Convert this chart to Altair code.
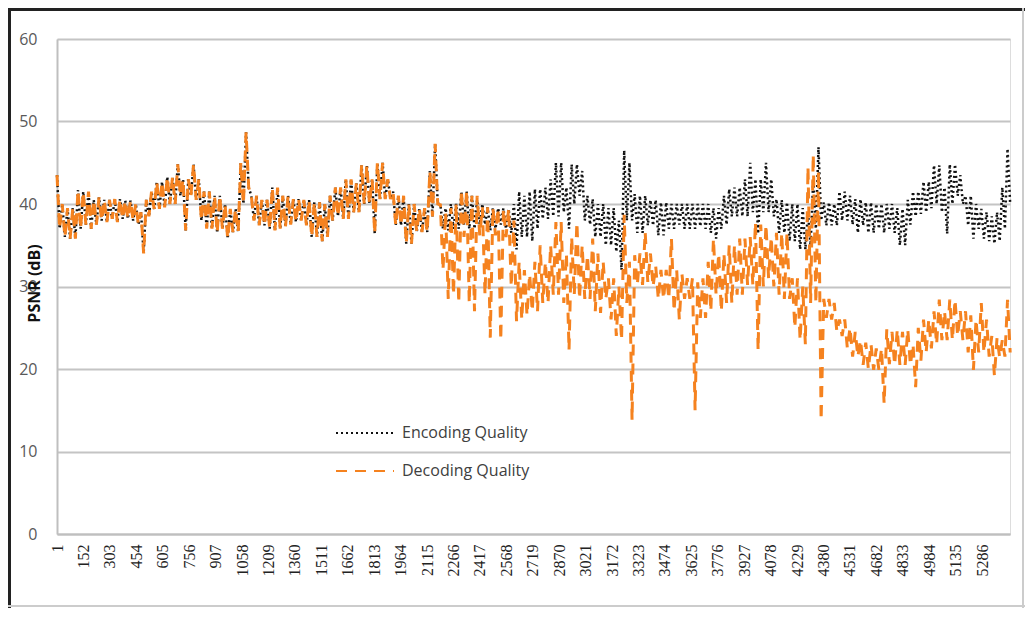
import altair as alt
import pandas as pd

# x categories (frame numbers): band top read at frame_hi, band bottom at frame_lo
frame_hi = list(range(1, 5432, 30))
frame_lo = list(range(16, 5447, 30))

encoding_top = [
    43.5, 40, 39.5, 39.5, 41.7, 41.5, 41.5, 40.5, 40.8, 40.5,
    40.5, 40.6, 40.6, 40.4, 40.4, 40, 39, 40.5, 41.5, 42.7,
    42.7, 43.3, 43.3, 44.8, 43, 43, 44.8, 43, 41.5, 41.5,
    41, 41, 40, 39.4, 39.4, 45, 48.7, 41, 41, 40.5,
    40.5, 42, 42, 41, 41, 40.6, 40.6, 40.5, 40.5, 40.2,
    40.2, 40, 41, 42, 42, 43, 43, 42.5, 44.7, 44.7,
    43, 45, 45, 43, 41.5, 41, 41, 40, 40, 39.5,
    39.5, 44, 47.3, 40, 39.5, 40, 40, 41.5, 41.5, 41,
    40.5, 40, 39.6, 39.5, 39.5, 39.5, 39.4, 40, 41.5, 41,
    41.5, 41.8, 41.8, 42, 43, 45, 45, 42, 44.8, 44.8,
    44, 41, 40.6, 40, 40, 39.5, 39.5, 38, 46.5, 45,
    41.2, 41, 41, 40.5, 40.5, 40.2, 40.2, 40, 40, 40,
    40, 40, 40, 40, 40, 39.5, 39.5, 41, 41.8, 42,
    42, 43, 45, 43, 43, 45, 43, 40.6, 40.5, 40.2,
    40, 40, 39.5, 39, 43, 46.9, 40.2, 40.2, 40, 41.5,
    41.5, 41, 40.6, 40.6, 40.2, 40.2, 40, 40, 40, 40,
    39.5, 39.4, 40.5, 41.5, 41.5, 42.7, 42.7, 44.7, 44.7, 42,
    44.8, 44.8, 43.5, 41, 41, 40, 39.4, 39, 38.5, 39,
    42, 46.7,
]

encoding_bottom = [
    37, 36, 35.8, 35.8, 37, 37.5, 37, 37.5, 38, 37.8,
    38.2, 37.8, 38.2, 38.2, 38, 37.5, 34, 38.5, 39.4, 39.4,
    39.6, 40, 40, 41, 36.8, 41, 40.5, 38, 37, 37,
    36.5, 37, 35.8, 36.6, 36.6, 40, 42, 38, 37.4, 37.4,
    37, 36.8, 37, 37.2, 37.5, 37.8, 38, 37.4, 36, 36,
    35.5, 36, 38, 38.5, 38.2, 38.2, 39, 39, 40, 40,
    36.4, 40.6, 40.6, 40.6, 37.4, 37.4, 35.2, 35.2, 36.6, 36.6,
    36.6, 38.5, 40, 37, 36.8, 37, 37, 37.5, 37, 37,
    37.5, 37.5, 36.8, 37, 37.5, 37, 36.5, 34.5, 36, 36,
    35.5, 37, 38.2, 38.2, 38.5, 38.5, 39, 37, 40, 41,
    38, 37.5, 36, 36, 35, 35, 34.2, 32, 38, 38,
    36.5, 36.5, 37.4, 37.4, 36.2, 36.2, 37, 37, 37.5, 37,
    37, 37, 37.3, 37, 36.5, 35.8, 37, 37.5, 38.5, 38.5,
    38.5, 38.5, 39, 36.4, 39, 39, 38.5, 36.5, 36.5, 35.5,
    35.5, 34.5, 34.5, 35, 37, 38, 37.4, 37.4, 37.4, 38,
    38, 37.5, 36.5, 37.4, 36.5, 36.5, 37, 36.5, 37, 36.5,
    35, 35, 37.5, 38.5, 38.8, 39, 39.5, 40, 39, 36.4,
    40, 41, 40, 37.4, 35.8, 37, 35.8, 35.5, 35.2, 35.5,
    37, 40,
]

decoding_top = [
    43.5, 40, 39.5, 39.5, 41.7, 41.5, 41.5, 40.5, 40.8, 40.5,
    40.5, 40.6, 40.6, 40.4, 40.4, 40, 39, 40.5, 41.5, 42.7,
    42.7, 43.3, 43.3, 44.8, 43, 43, 44.8, 43, 41.5, 41.5,
    41, 41, 40, 39.4, 39.4, 45, 48.7, 41, 41, 40.5,
    40.5, 42, 42, 41, 41, 40.6, 40.6, 40.5, 40.5, 40.2,
    40.2, 40, 41, 42, 42, 43, 43, 42.5, 44.7, 44.7,
    43, 45, 45, 43, 41.5, 41, 41, 40, 40, 39.5,
    39.5, 44, 47.3, 39.9, 39, 39.5, 40, 41.7, 41.7, 41,
    41, 39.6, 39.6, 39.5, 39.5, 39.4, 39.4, 38, 33, 32,
    31.5, 33, 35, 33, 35, 37.8, 37.8, 34, 36, 37.8,
    35, 33.8, 35.8, 34, 33, 31, 31, 30, 38.7, 33,
    33.8, 34, 36.6, 34, 32.5, 32, 32, 35.8, 32, 31.5,
    31, 31, 30.5, 31, 33, 35.8, 34, 34, 35, 35,
    35.8, 35.8, 36, 37.8, 37.5, 37.5, 36, 36.5, 36.5, 36.5,
    31, 31, 30, 44.5, 46, 44, 28.5, 28.5, 28, 26,
    26, 25, 24.5, 23.5, 23.2, 23, 22.5, 22.5, 24.8, 24.5,
    24.8, 24.5, 24.8, 23, 25, 26, 26, 27, 28.4, 27,
    28.4, 28.4, 27, 27, 26.5, 26, 28, 26, 24, 23.8,
    23.5, 28.4,
]

decoding_bottom = [
    37, 36, 35.8, 35.8, 37, 37.5, 37, 37.5, 38, 37.8,
    38.2, 37.8, 38.2, 38.2, 38, 37.5, 34, 38.5, 39.4, 39.4,
    39.6, 40, 40, 41, 36.8, 41, 40.5, 38, 37, 37,
    36.5, 37, 35.8, 36.6, 36.6, 40, 42, 38, 37.4, 37.4,
    37, 36.8, 37, 37.2, 37.5, 37.8, 38, 37.4, 36, 36,
    35.5, 36, 38, 38.5, 38.2, 38.2, 39, 39, 40, 40,
    36.4, 40.6, 40.6, 40.6, 37.4, 37.4, 35.2, 35.2, 36.6, 36.6,
    36.6, 38.5, 40, 32, 28.5, 29, 28, 36, 28, 27,
    36.2, 29, 23.8, 36.2, 23.5, 36, 30, 25.8, 26, 26.5,
    27, 27, 28, 28, 29, 29, 28, 22.3, 29, 28.5,
    28.5, 28.5, 27, 26.8, 28.5, 26, 24, 23.5, 28, 13.8,
    30.2, 30.2, 30.5, 30, 28.5, 28.5, 28.5, 27, 26, 28.5,
    28.5, 15, 26.2, 26.2, 27, 29, 27, 28, 28, 29,
    29, 30.2, 30.2, 22.3, 30, 31, 30, 29, 28.5, 28.5,
    25, 23.5, 23, 28, 28, 13.8, 26.2, 26, 24.5, 24,
    22.5, 21.5, 21.5, 20.5, 20, 19.9, 19.9, 15.8, 20.6, 20.5,
    20.5, 20.5, 20.5, 17.8, 21, 22, 22.5, 23, 23.5, 23.5,
    23.5, 24, 23.5, 22, 19.9, 22, 22, 21.5, 19.2, 21.4,
    21.5, 22,
]

x_ticks = [1, 152, 303, 454, 605, 756, 907, 1058, 1209, 1360, 1511, 1662,
           1813, 1964, 2115, 2266, 2417, 2568, 2719, 2870, 3021, 3172, 3323,
           3474, 3625, 3776, 3927, 4078, 4229, 4380, 4531, 4682, 4833, 4984,
           5135, 5286]
y_ticks = [0, 10, 20, 30, 40, 50, 60]
series_names = ["Encoding Quality", "Decoding Quality"]
series_colors = ["#111111", "#F5821F"]
series_dashes = [[2, 3], [11, 8]]

W, H = 953, 495


def build(name, top, bottom):
    rows = []
    for fh, fl, t, b in zip(frame_hi, frame_lo, top, bottom):
        rows.append({"frame": fh, "psnr": t, "series": name})
        rows.append({"frame": fl, "psnr": b, "series": name})
    return rows


df = pd.DataFrame(build(series_names[0], encoding_top, encoding_bottom)
                  + build(series_names[1], decoding_top, decoding_bottom))

legend = alt.Legend(
    title=None, orient="none", legendX=278, legendY=364,
    symbolType="stroke", symbolSize=3364, symbolStrokeWidth=2,
    labelFont="Open Sans", labelFontSize=16, labelColor="#404040",
    labelOffset=7, rowPadding=-7,
)

base = alt.Chart(df).encode(
    x=alt.X("frame:Q",
            scale=alt.Scale(domain=[1, 5445], nice=False, zero=False),
            axis=alt.Axis(values=x_ticks, format="d", title=None, grid=False, ticks=False,
                          labelAngle=270, labelFont="Liberation Serif",
                          labelFontSize=16, labelColor="#222222",
                          labelPadding=10, labelOverlap=False, labelFlush=False,
                          domainColor="#BFBFBF", domainWidth=2)),
    y=alt.Y("psnr:Q",
            scale=alt.Scale(domain=[0, 60], nice=False),
            axis=alt.Axis(values=y_ticks, title="PSNR (dB)", grid=True,
                          gridColor="#C4C4C4", gridWidth=2, ticks=False,
                          labelFont="Open Sans", labelFontSize=16,
                          labelColor="#595959", labelPadding=20,
                          domainColor="#BFBFBF", domainWidth=2,
                          titleFont="Open Sans", titleFontWeight="bold",
                          titleFontSize=16, titleColor="#111111",
                          titleAngle=270, titleX=-23, titleY=244,
                          titleAlign="center", titleBaseline="middle")),
    order=alt.Order("frame:Q"),
    color=alt.Color("series:N",
                    scale=alt.Scale(domain=series_names, range=series_colors),
                    legend=legend),
    strokeDash=alt.StrokeDash("series:N",
                              scale=alt.Scale(domain=series_names, range=series_dashes),
                              legend=legend),
)

enc_line = base.transform_filter(alt.datum.series == series_names[0]).mark_line(strokeWidth=2.5)
dec_line = base.transform_filter(alt.datum.series == series_names[1]).mark_line(strokeWidth=3)

one = pd.DataFrame({"a": [0]})
frame_left = alt.Chart(one).mark_rule(color="#222222", strokeWidth=3).encode(
    x=alt.value(-47.5), y=alt.value(-31), y2=alt.value(H + 74))
frame_top = alt.Chart(one).mark_rule(color="#222222", strokeWidth=3).encode(
    x=alt.value(-49), x2=alt.value(W + 15), y=alt.value(-29.5))
frame_right = alt.Chart(one).mark_rule(color="#CCCCCC", strokeWidth=2).encode(
    x=alt.value(W + 13), y=alt.value(-31), y2=alt.value(H + 74))
frame_bottom = alt.Chart(one).mark_rule(color="#CCCCCC", strokeWidth=2).encode(
    x=alt.value(-49), x2=alt.value(W + 15), y=alt.value(H + 72))

chart = alt.layer(enc_line, dec_line, frame_left, frame_top, frame_right, frame_bottom).properties(
    width=W, height=H,
    autosize=alt.AutoSizeParams(type="none"),
    padding={"left": 49, "top": 31, "right": 15, "bottom": 74},
).configure_view(stroke=None).configure(background="white")

chart.save("out.html", embed_options={"renderer": "svg", "actions": False})
